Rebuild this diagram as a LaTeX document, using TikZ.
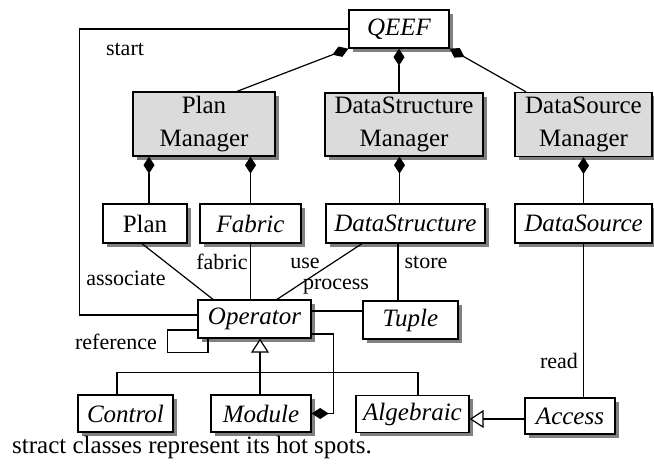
\documentclass[tikz,border=0pt]{standalone}
\usepackage{fontspec}
\setmainfont{Liberation Serif}
\usetikzlibrary{arrows.meta,shadows}
\begin{document}
\begin{tikzpicture}[x=1pt,y=-1pt,
  cls/.style={draw, line width=1.3pt, fill=white, inner sep=0pt, align=center,
    font=\fontsize{25}{33}\selectfont,
    drop shadow={shadow xshift=3.5pt, shadow yshift=-3.5pt, fill=black!50, opacity=1}},
  mgr/.style={cls, fill=black!14},
  abs/.style={cls, font=\fontsize{25}{33}\selectfont\itshape},
  lbl/.style={font=\fontsize{22}{26}\selectfont, inner sep=0pt},
  conn/.style={line width=1.2pt},
  comp/.style={conn, {Diamond[length=17pt,width=11pt]}-},
  gen/.style={conn, {Triangle[open,fill=white,length=14pt,width=18pt]}-},
]
\useasboundingbox (0,0) rectangle (654,464);

% classes
\node[abs, minimum width=100pt, minimum height=38pt] (qeef) at (399,29) {QEEF};
\node[mgr, minimum width=142pt, minimum height=64pt] (pm) at (204,124) {Plan\\Manager};
\node[mgr, minimum width=158pt, minimum height=63pt] (dsm) at (404,124.5) {DataStructure\\Manager};
\node[mgr, minimum width=137pt, minimum height=64pt] (dsrcm) at (583.5,124.5) {DataSource\\Manager};
\node[cls, minimum width=84pt, minimum height=39pt] (plan) at (145,223.5) {Plan};
\node[abs, minimum width=101pt, minimum height=39pt] (fabric) at (250.5,223.5) {Fabric};
\node[abs, minimum width=159pt, minimum height=39pt] (ds) at (405.5,223.5) {DataStructure};
\node[abs, minimum width=137pt, minimum height=39pt] (dsrc) at (583.5,223.5) {DataSource};
\node[abs, minimum width=113pt, minimum height=38pt] (op) at (254.5,319) {Operator};
\node[abs, minimum width=95pt, minimum height=38pt] (tuple) at (410.5,320) {Tuple};
\node[abs, minimum width=95pt, minimum height=37pt] (ctrl) at (125.5,413.5) {Control};
\node[abs, minimum width=100pt, minimum height=37pt] (mod) at (261,413.5) {Module};
\node[abs, minimum width=113pt, minimum height=37pt] (alg) at (412.5,414) {Algebraic};
\node[abs, minimum width=90pt, minimum height=36pt] (acc) at (570,416) {Access};

% helper coordinates
\coordinate (pmA) at ([xshift=33pt]pm.north);
\coordinate (dsrcmA) at ([xshift=-57.5pt]dsrcm.north);
\coordinate (planT) at ([xshift=4pt]plan.north);
\coordinate (dsT) at ([xshift=-6pt]ds.north);
\coordinate (planB) at ([xshift=-3pt]plan.south);
\coordinate (opA) at ([xshift=-41.5pt]op.north);
\coordinate (dsB) at ([xshift=-43.5pt]ds.south);
\coordinate (opU) at ([xshift=22.5pt]op.north);
\coordinate (dsS) at ([xshift=-7.5pt]ds.south);
\coordinate (opP) at ([yshift=8pt]op.east);
\coordinate (opM) at ([yshift=-15pt]op.east);
\coordinate (opM2) at ([xshift=22pt]opM);
\coordinate (opR) at ([yshift=-11pt]op.west);
\coordinate (opR2) at ([xshift=-46.5pt]op.south);
\coordinate (opS) at ([yshift=4pt]op.west);
\coordinate (startX) at ([xshift=-118pt]opS);
\coordinate (opG) at ([xshift=5.5pt]op.south);
\coordinate (bus) at ([yshift=-34pt]opG);
\coordinate (ctrlT) at ([xshift=-8.5pt]ctrl.north);
\coordinate (algT) at ([xshift=5.5pt]alg.north);
\coordinate (accW) at ([yshift=-3pt]acc.west);

% compositions
\draw[comp] (qeef.south west) -- (pmA);
\draw[comp] (qeef.south) -- (qeef.south |- dsm.north);
\draw[comp] (qeef.south east) -- (dsrcmA);
\draw[comp] (pm.south -| planT) -- (planT);
\draw[comp] (pm.south -| fabric.north) -- (fabric.north);
\draw[comp] (dsm.south -| dsT) -- (dsT);
\draw[comp] (dsrcm.south) -- (dsrc.north);
\draw[comp] (mod.east) -| (opM2) -- (opM);

% associations
\draw[conn] (qeef.west) -| (startX) -- (opS);
\draw[conn] (planB) -- (opA);
\draw[conn] (fabric.south) -- (fabric.south |- op.north);
\draw[conn] (dsB) -- (opU);
\draw[conn] (dsS) -- (dsS |- tuple.north);
\draw[conn] (opP) -- (opP -| tuple.west);
\draw[conn] (opR) -- ++(-30,0) |- ([yshift=-14pt]opR2) -- (opR2);
\draw[conn] (dsrc.south) -- (dsrc.south |- acc.north);

% generalizations
\draw[gen] (opG) -- (opG |- mod.north);
\draw[conn] (ctrlT) |- (bus) -| (algT);
\draw[gen] (alg.east |- accW) -- (accW);

% labels
\node[lbl] (lstart) at (125,49) {start};
\node[lbl] (lassoc) at (126,278) {associate};
\node[lbl] (lfab) at (222,262) {fabric};
\node[lbl] (luse) at (305,263) {use};
\node[lbl] (lproc) at (336,287) {process};
\node[lbl] (lstore) at (426,262) {store};
\node[lbl] (lref) at (116,342) {reference};
\node[lbl] (lread) at (559,361) {read};
\node[font=\fontsize{25}{30}\selectfont, inner sep=0pt, anchor=base west] (cap) at (12,453) {stract classes represent its hot spots.};
\end{tikzpicture}
\end{document}
